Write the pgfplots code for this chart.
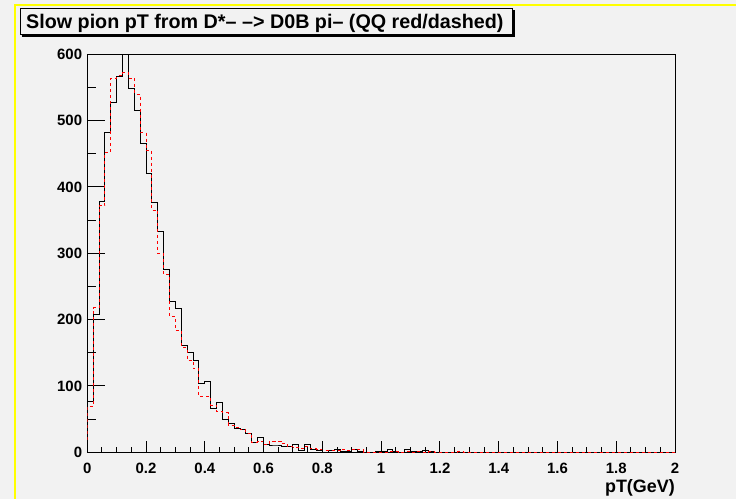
\documentclass[border=0pt]{standalone}
\usepackage{pgfplots}
\pgfplotsset{compat=1.18}
\usepackage{fontspec}
\setmainfont{Liberation Sans}
\definecolor{rootbg}{HTML}{F2F2F2}
\definecolor{rootyellow}{HTML}{FFFF00}

% histogram contents, left bin edge / content (bin width 0.02)
\pgfplotstableread{
x y
0 0
0 76
0.02 207
0.04 378
0.06 482
0.08 527
0.10 567
0.12 615
0.14 548
0.16 516
0.18 466
0.20 421
0.22 376
0.24 333
0.26 276
0.28 228
0.30 217
0.32 161
0.34 151
0.36 138
0.38 104
0.40 106
0.42 66
0.44 75
0.46 50
0.48 44
0.50 36
0.52 35
0.54 28
0.56 15
0.58 22
0.60 12
0.62 11
0.64 11
0.66 9
0.68 8
0.70 12
0.72 2.5
0.74 11.5
0.76 4.5
0.78 2.5
0.80 0
0.82 2.5
0.84 3.5
0.86 1
0.88 1
0.90 3.5
0.92 1
0.94 0
0.98 1
1.00 1
1.02 3.5
1.04 1
1.06 0
1.08 4.5
1.10 1
1.12 1
1.14 2.5
1.16 1
1.18 0
2.00 0
}\histdata

\pgfplotstableread{
x y
0 0
0 69
0.02 218
0.04 372
0.06 452
0.08 564
0.10 568
0.12 572
0.14 564
0.16 540
0.18 482
0.20 455
0.22 365
0.24 300
0.26 268
0.28 204
0.30 183
0.32 158
0.34 139
0.36 126
0.38 84
0.40 84
0.42 71
0.44 61
0.46 60
0.48 41
0.50 38
0.52 34
0.54 29
0.56 15
0.58 17
0.60 12
0.62 17
0.64 17
0.66 14
0.68 9.5
0.70 7.5
0.72 6
0.74 8.5
0.76 5.5
0.78 3.5
0.80 2.5
0.82 2.5
0.84 2.5
0.86 4.5
0.88 2.5
0.90 4.5
0.92 3.5
0.94 0
1.02 1
1.04 1
1.06 0
1.08 1
1.10 0
1.12 1
1.14 0
1.16 1
1.18 0
1.26 1
1.28 0
2.00 0
}\qqdata

\begin{document}
\begin{tikzpicture}
  % canvas
  \fill[rootbg] (0,0) rectangle (736bp,-499bp);
  \draw[rootyellow, line width=2bp] (15bp,-499bp) -- (15bp,-5bp) -- (736bp,-5bp);

  % title pave
  \draw[black, line width=1bp] (20.5bp,-8.5bp) rectangle (512.5bp,-34.5bp);
  \draw[black, line width=2bp] (21.5bp,-35.5bp) -- (513.5bp,-35.5bp) -- (513.5bp,-9.5bp);
  \node[anchor=base west, inner sep=0pt] at (26bp,-28bp)
    {\fontsize{19.8}{19.8}\selectfont\bfseries Slow pion pT from D*– –> D0B pi– (QQ red/dashed)};

  \pgfplotsset{
    rootaxis/.style={
      at={(87.3bp,-452.3bp)}, anchor=south west,
      scale only axis, width=587.7bp, height=398bp,
      xmin=0, xmax=2, ymin=0, ymax=600,
      tick align=inside,
      tick style={black, line width=1bp},
      /pgf/number format/assume math mode=true,
      ticklabel style={font=\fontsize{15}{15}\selectfont\bfseries, inner sep=0pt},
    },
  }

  \begin{axis}[
    rootaxis,
    axis line style={black, line width=1bp},
    xtick=\empty,
    ytick={0,100,200,300,400,500,600},
    minor y tick num=1,
    ytick pos=left,
    major tick length=18bp,
    minor tick length=9bp,
    yticklabel style={anchor=east, xshift=-5bp},
    const plot,
  ]
    \addplot[black, line width=1bp] table[x=x, y=y] {\histdata};
    \addplot[red, line width=1bp, dash pattern=on 3bp off 3bp] table[x=x, y=y] {\qqdata};
  \end{axis}

  \begin{axis}[
    rootaxis,
    axis line style={draw=none},
    ytick=\empty,
    xtick={0,0.2,0.4,0.6,0.8,1,1.2,1.4,1.6,1.8,2},
    minor x tick num=3,
    xtick pos=bottom,
    major tick length=11bp,
    minor tick length=5.5bp,
    xticklabel style={anchor=north, yshift=-10.7bp},
    xlabel={pT(GeV)},
    xlabel style={at={(1,0)}, anchor=north east, inner sep=0pt, yshift=-27bp,
      font=\fontsize{18}{18}\selectfont\bfseries},
  ]
  \end{axis}

  \pgfresetboundingbox
  \path[use as bounding box] (0,0) rectangle (736bp,-499bp);
\end{tikzpicture}
\end{document}
